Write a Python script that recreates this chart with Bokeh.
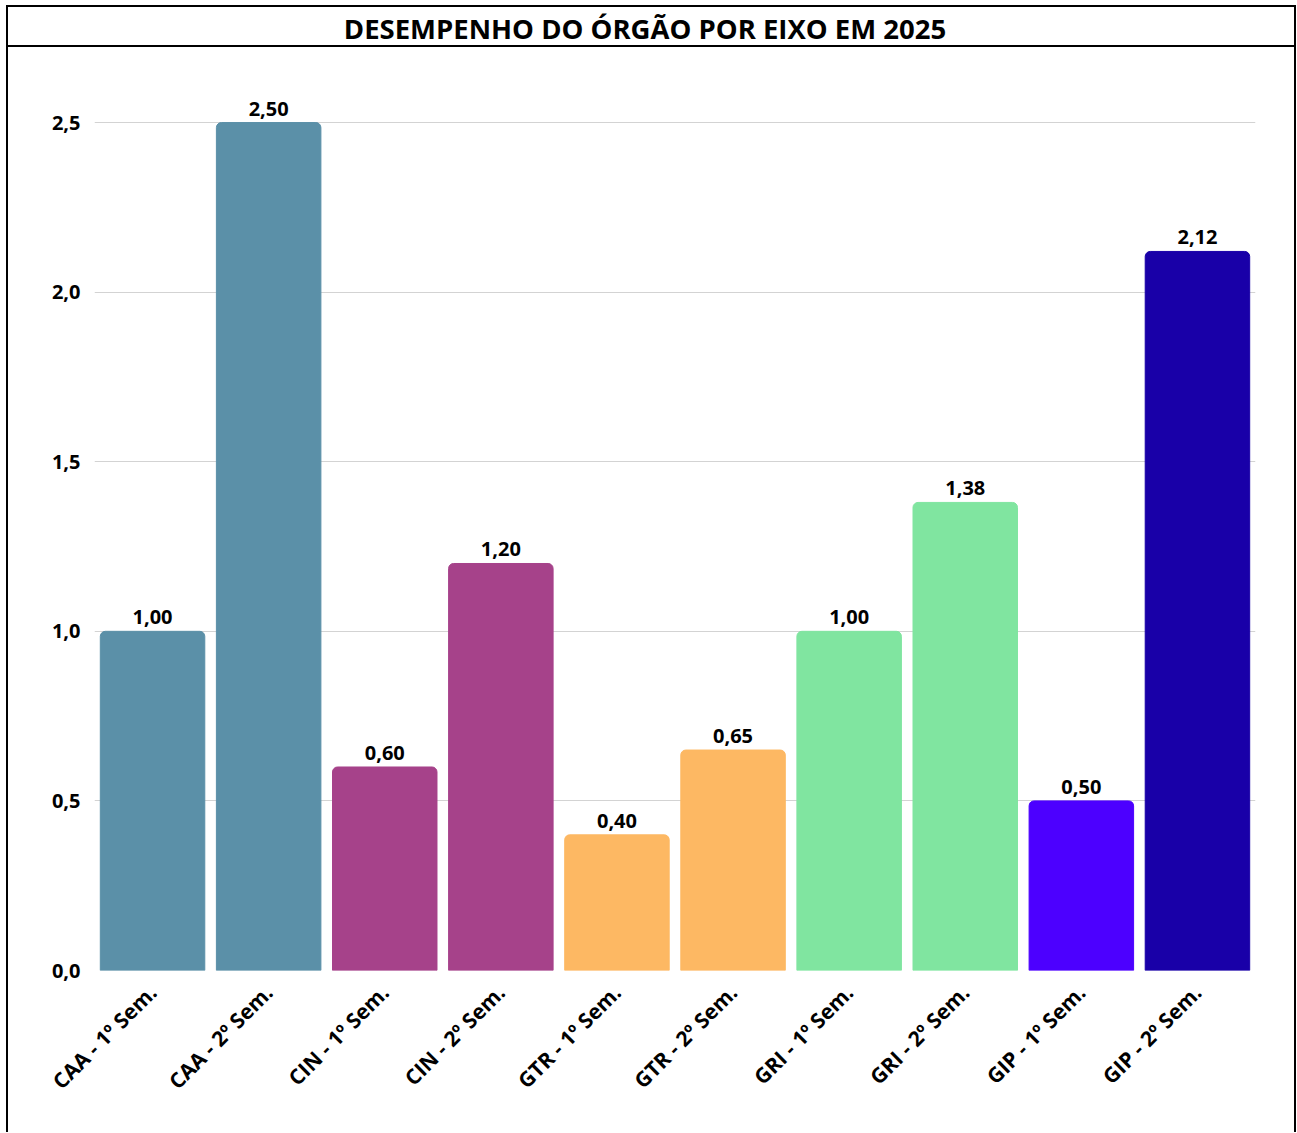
from bokeh.plotting import figure
from bokeh.models import ColumnDataSource, FactorRange, Range1d, CustomJSTickFormatter, SingleIntervalTicker
from bokeh.layouts import column
from bokeh.embed import file_html
from bokeh.resources import INLINE
from bokeh.core.properties import value

title_text = "DESEMPENHO DO ÓRGÃO POR EIXO EM 2025"
categories = ["CAA - 1º Sem.", "CAA - 2º Sem.", "CIN - 1º Sem.", "CIN - 2º Sem.",
              "GTR - 1º Sem.", "GTR - 2º Sem.", "GRI - 1º Sem.", "GRI - 2º Sem.",
              "GIP - 1º Sem.", "GIP - 2º Sem."]
values = [1.00, 2.50, 0.60, 1.20, 0.40, 0.65, 1.00, 1.38, 0.50, 2.12]
colors = ["#5B90A8", "#5B90A8", "#A6428A", "#A6428A", "#FDB863", "#FDB863",
          "#80E5A0", "#80E5A0", "#4C00FF", "#1900A8"]
labels = [f"{v:.2f}".replace(".", ",") for v in values]

W = 1286          # canvas width (borders drawn outside)
ML, MR = 86, 43
FW = W + 4 - ML - MR
TH = 38           # title strip canvas height
FONT = "Open Sans"

# Title strip (frame aligned with chart frame; data units = pixels of that frame)
pt = figure(width=W, height=TH, x_range=Range1d(0, FW), y_range=Range1d(0, TH),
            toolbar_location=None, output_backend="svg",
            min_border_left=ML, min_border_right=MR, min_border_top=0, min_border_bottom=0)
pt.axis.visible = False
pt.grid.visible = False
pt.outline_line_color = None
pt.text(x=[FW / 2 - 30], y=[TH / 2], text=[title_text], text_align="center", text_baseline="middle",
        text_font=value(FONT), text_font_style="bold", text_font_size="27.5px", text_color="#000000")
pt.styles = {"border": "2px solid #000000", "box-sizing": "content-box"}

# Chart
src = ColumnDataSource(dict(cat=categories, val=values, col=colors, lab=labels))
p = figure(width=W, height=1085, x_range=FactorRange(*categories), y_range=Range1d(0, 2.68),
           toolbar_location=None, output_backend="svg",
           min_border_left=ML, min_border_right=MR, min_border_top=14, min_border_bottom=162)
p.vbar(x="cat", top="val", width=0.9, color="col", source=src, border_radius=(5, 5, 0, 0))
p.text(x="cat", y="val", text="lab", source=src, text_align="center", text_baseline="bottom",
       y_offset=-7, text_font=value(FONT), text_font_style="bold", text_font_size="20px",
       text_color="#000000")

p.yaxis.ticker = SingleIntervalTicker(interval=0.5)
p.yaxis.formatter = CustomJSTickFormatter(code="return tick.toFixed(1).replace('.', ',');")
for ax in (p.xaxis, p.yaxis):
    ax.axis_line_color = None
    ax.major_tick_line_color = None
    ax.minor_tick_line_color = None
    ax.major_label_text_font = FONT
    ax.major_label_text_font_style = "bold"
    ax.major_label_text_color = "#000000"
p.yaxis.major_label_text_font_size = "20px"
p.xaxis.major_label_text_font_size = "21px"
p.yaxis.major_label_standoff = 8
p.xaxis.major_label_orientation = 0.785398
p.xaxis.major_label_standoff = 12
p.xgrid.grid_line_color = None
p.ygrid.grid_line_color = "#D3D3D3"
p.ygrid.grid_line_width = 1
p.outline_line_color = None
p.styles = {"border-left": "2px solid #000000", "border-right": "2px solid #000000",
            "box-sizing": "content-box"}

layout = column(pt, p, spacing=0)
layout.styles = {"margin-left": "6px", "margin-top": "5px"}
open("out.html", "w").write(file_html(layout, INLINE))
